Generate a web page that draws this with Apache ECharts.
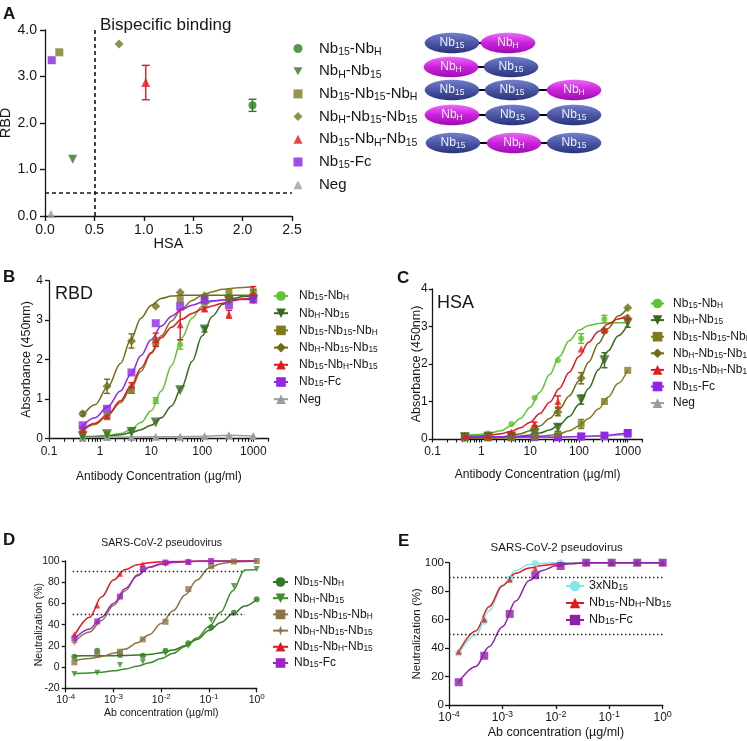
<!DOCTYPE html>
<html><head><meta charset="utf-8">
<script src="https://cdn.jsdelivr.net/npm/echarts@6/dist/echarts.min.js"></script>
<style>html,body{margin:0;padding:0;background:#fff}#c{width:747px;height:741px}</style>
</head><body><div id="c"></div><script>
// ================= DATA =================
// Panel A
const A_names = ['Nb15-NbH','NbH-Nb15','Nb15-Nb15-NbH','NbH-Nb15-Nb15','Nb15-NbH-Nb15','Nb15-Fc','Neg'];
const A_hsa = [2.10, 0.28, 0.145, 0.75, 1.02, 0.068, 0.06];
const A_rbd = [2.38, 1.22, 3.52, 3.70, 2.87, 3.35, 0.05];
const A_rbdErr = [0.13, 0, 0, 0, 0.37, 0, 0];
const A_cutoff = 0.5;
const A_xTicks = ['0.0','0.5','1.0','1.5','2.0','2.5'];
const A_yTicks = ['0.0','1.0','2.0','3.0','4.0'];

// Panels B/C (ELISA)
const BC_names = ['Nb15-NbH','NbH-Nb15','Nb15-Nb15-NbH','NbH-Nb15-Nb15','Nb15-NbH-Nb15','Nb15-Fc','Neg'];
const BC_conc = [0.457, 1.37, 4.12, 12.3, 37.0, 111, 333, 1000];
const BC_fitConc = [0.447, 0.794, 1.41, 2.51, 3.98, 6.31, 10, 15.8, 25.1, 39.8, 63.1, 100, 158, 251, 398, 631, 1000];
const BC_xTicks = ['0.1','1','10','100','1000'];

const B_Nb15NbH = [0.06, 0.10, 0.22, 0.96, 2.38, 3.42, 3.50, 3.55];
const B_Nb15NbH_err = [0, 0, 0, 0.07, 0.12, 0.05, 0.05, 0];
const B_NbHNb15 = [0.05, 0.10, 0.16, 0.40, 1.22, 2.76, 3.50, 3.52];
const B_NbHNb15_err = [0, 0, 0, 0, 0, 0.06, 0, 0];
const B_Nb15Nb15NbH = [0.22, 0.58, 1.22, 2.45, 3.52, 3.55, 3.70, 3.72];
const B_Nb15Nb15NbH_err = [0, 0, 0.08, 0.10, 0, 0, 0, 0.05];
const B_NbHNb15Nb15 = [0.62, 1.32, 2.47, 3.35, 3.70, 3.62, 3.58, 3.62];
const B_NbHNb15Nb15_err = [0.05, 0.18, 0.18, 0, 0, 0, 0, 0];
const B_Nb15NbHNb15 = [0.22, 0.55, 1.35, 2.50, 2.88, 3.28, 3.15, 3.65];
const B_Nb15NbHNb15_err = [0, 0.03, 0.06, 0.17, 0.38, 0.05, 0.10, 0.20];
const B_Fc = [0.33, 0.75, 1.67, 2.92, 3.35, 3.50, 3.38, 3.52];
const B_Neg = [0.02, 0.03, 0.03, 0.04, 0.04, 0.05, 0.08, 0.06];
const B_fit_Nb15NbH = [0.04, 0.05, 0.07, 0.12, 0.22, 0.40, 0.70, 1.20, 1.85, 2.55, 3.05, 3.35, 3.47, 3.51, 3.53, 3.53, 3.53];
const B_fit_NbHNb15 = [0.03, 0.04, 0.06, 0.09, 0.14, 0.22, 0.33, 0.52, 0.82, 1.30, 1.95, 2.60, 3.10, 3.40, 3.55, 3.60, 3.62];
const B_fit_Nb15Nb15NbH = [0.20, 0.35, 0.58, 0.90, 1.25, 1.70, 2.15, 2.60, 2.98, 3.28, 3.50, 3.63, 3.72, 3.78, 3.81, 3.83, 3.84];
const B_fit_NbHNb15Nb15 = [0.55, 0.85, 1.30, 1.90, 2.50, 3.05, 3.38, 3.55, 3.61, 3.63, 3.63, 3.63, 3.63, 3.63, 3.63, 3.63, 3.63];
const B_fit_Nb15NbHNb15 = [0.20, 0.38, 0.60, 0.95, 1.32, 1.78, 2.18, 2.55, 2.82, 3.02, 3.17, 3.28, 3.36, 3.43, 3.49, 3.54, 3.58];
const B_fit_Fc = [0.30, 0.52, 0.80, 1.20, 1.62, 2.10, 2.50, 2.85, 3.10, 3.27, 3.38, 3.45, 3.49, 3.51, 3.52, 3.52, 3.52];

const C_Nb15NbH = [0.10, 0.15, 0.40, 1.10, 2.10, 2.68, 3.20, 3.25];
const C_Nb15NbH_err = [0, 0, 0, 0, 0, 0.13, 0.10, 0];
const C_NbHNb15 = [0.05, 0.06, 0.07, 0.15, 0.30, 1.05, 2.10, 3.10];
const C_NbHNb15_err = [0, 0, 0, 0, 0.10, 0.12, 0.20, 0.12];
const C_Nb15Nb15NbH = [0.04, 0.04, 0.04, 0.06, 0.13, 0.40, 1.00, 1.83];
const C_Nb15Nb15NbH_err = [0, 0, 0, 0, 0, 0.12, 0, 0];
const C_NbHNb15Nb15 = [0.05, 0.05, 0.06, 0.28, 0.72, 1.62, 2.88, 3.50];
const C_NbHNb15Nb15_err = [0, 0, 0, 0, 0.10, 0.15, 0.05, 0];
const C_Nb15NbHNb15 = [0.08, 0.10, 0.18, 0.40, 1.00, 2.40, 2.92, 3.25];
const C_Nb15NbHNb15_err = [0, 0, 0, 0.05, 0.15, 0, 0, 0];
const C_Fc = [0.06, 0.06, 0.06, 0.06, 0.05, 0.07, 0.09, 0.16];
const C_Neg = [0.04, 0.04, 0.04, 0.05, 0.05, 0.06, 0.08, 0.12];
const C_fit_Nb15NbH = [0.10, 0.12, 0.15, 0.22, 0.35, 0.55, 0.85, 1.25, 1.72, 2.20, 2.62, 2.90, 3.03, 3.08, 3.10, 3.10, 3.10];
const C_fit_NbHNb15 = [0.04, 0.04, 0.04, 0.05, 0.06, 0.08, 0.11, 0.16, 0.24, 0.38, 0.60, 0.92, 1.35, 1.85, 2.35, 2.75, 3.05];
const C_fit_Nb15Nb15NbH = [0.03, 0.03, 0.03, 0.03, 0.04, 0.05, 0.06, 0.08, 0.10, 0.14, 0.22, 0.35, 0.55, 0.80, 1.12, 1.48, 1.84];
const C_fit_NbHNb15Nb15 = [0.02, 0.03, 0.04, 0.06, 0.09, 0.14, 0.22, 0.35, 0.55, 0.80, 1.15, 1.55, 2.05, 2.55, 2.95, 3.28, 3.50];
const C_fit_Nb15NbHNb15 = [0.07, 0.08, 0.10, 0.14, 0.20, 0.30, 0.45, 0.68, 0.98, 1.35, 1.78, 2.20, 2.58, 2.87, 3.07, 3.20, 3.30];

// Panels D/E (neutralization)
const DE_conc = [1.52e-4, 4.57e-4, 1.37e-3, 4.12e-3, 1.23e-2, 3.70e-2, 0.111, 0.333, 1];
const DE_fitConc = [1.5e-4, 3.16e-4, 5.62e-4, 1.0e-3, 1.78e-3, 3.16e-3, 5.62e-3, 1.0e-2, 1.78e-2, 3.16e-2, 5.62e-2, 0.1, 0.178, 0.316, 0.562, 1.0];
const DE_xTickExp = ['-4','-3','-2','-1','0'];
const DE_refLines = [90, 50];

const D_names = ['Nb15-NbH','NbH-Nb15','Nb15-Nb15-NbH','NbH-Nb15-Nb15','Nb15-NbH-Nb15','Nb15-Fc'];
const D_Nb15NbH = [9.8, 15.5, 11.4, 10.7, 15.5, 22.4, 37.5, 51.3, 63.9];
const D_NbHNb15 = [-6.6, -5.4, 1.9, 5.0, 13.0, 19.9, 44.4, 76.4, 92.4];
const D_Nb15Nb15NbH = [4.5, 11.4, 14.5, 26.1, 42.7, 73.5, 95.2, 99.5, 100];
const D_NbHNb15Nb15 = [23.2, 42.0, 66.0, 92.0, 97.0, 99.5, 99.8];
const D_Nb15NbHNb15 = [31.0, 58.0, 88.0, 97.0, 99.0, 99.5];
const D_Fc = [27.0, 43.0, 66.5, 92.4, 98.5, 99.0, 100];
const D_fit_Nb15NbH = [10.5, 10.6, 10.7, 10.8, 11.0, 11.3, 11.9, 13.5, 16.0, 20.0, 26.0, 34.5, 42.0, 50.0, 57.5, 64.0];
const D_fit_NbHNb15 = [-6.0, -5.5, -4.8, -3.5, -1.8, 0.8, 4.0, 8.0, 13.0, 19.5, 27.5, 38.0, 52.0, 72.0, 91.5, 92.0];
const D_fit_Nb15Nb15NbH = [6.0, 8.0, 10.0, 13.0, 17.0, 23.0, 30.5, 41.0, 53.0, 68.0, 82.0, 93.5, 97.5, 99.0, 99.6, 100];
const D_fit_NbHNb15Nb15 = [23.0, 33.0, 44.0, 58.0, 72.0, 87.0, 94.0, 97.0, 98.5, 99.3, 99.7, 99.9, 100, 100, 100, 100];
const D_fit_Nb15NbHNb15 = [29.0, 47.0, 66.0, 82.0, 92.0, 96.5, 98.3, 99.2, 99.5, 99.7, 99.9, 100, 100, 100, 100, 100];
const D_fit_Fc = [26.0, 36.0, 47.0, 60.0, 74.0, 86.0, 94.0, 97.5, 98.8, 99.4, 99.8, 100, 100, 100, 100, 100];

const E_names = ['3xNb15','Nb15-NbH-Nb15','Nb15-Fc'];
const E_3xNb15 = [36.5, 58.9, 88.5, 99.5, 100, 100, 100, 100, 100];
const E_Nb15NbHNb15 = [37.5, 60.0, 88.0, 96.0, 99.0, 100, 100, 100, 100];
const E_Fc = [16.0, 34.6, 64.0, 91.2, 97.7, 100, 100, 100, 100];
const E_fit_3xNb15 = [36, 49, 66, 83.5, 94.5, 98.7, 99.7, 100, 100, 100, 100, 100, 100, 100, 100, 100];
const E_fit_Nb15NbHNb15 = [37, 52, 69, 84, 92.5, 96.3, 98, 99, 99.4, 99.7, 99.9, 100, 100, 100, 100, 100];
const E_fit_Fc = [16, 27, 41, 55, 73, 87.5, 94.5, 97.8, 99.2, 99.8, 100, 100, 100, 100, 100, 100];

// ================= STYLES =================
const FF = '"Liberation Sans", Arial, Helvetica, sans-serif';
const INK = '#161616';
const STAR4 = 'path://M0,-10L2.6,-2.6L10,0L2.6,2.6L0,10L-2.6,2.6L-10,0L-2.6,-2.6Z';
const TRI_DOWN = 'path://M0,0L10,0L5,9Z';
const A_style = [
  {color:'#2f7d20', symbol:'circle', size:8},
  {color:'#36761b', symbol:TRI_DOWN, size:9},
  {color:'#7b7a22', symbol:'rect', size:8},
  {color:'#77731a', symbol:'diamond', size:9},
  {color:'#e3191f', symbol:'triangle', size:9},
  {color:'#8a1fe0', symbol:'rect', size:8},
  {color:'#9c9c9c', symbol:'triangle', size:8}
];
const BC_style = [
  {color:'#5fc232', symbol:'circle', size:6},
  {color:'#336b1b', symbol:TRI_DOWN, size:10},
  {color:'#7d7a22', symbol:'rect', size:7},
  {color:'#6f6b16', symbol:'diamond', size:9},
  {color:'#e3191f', symbol:'triangle', size:7},
  {color:'#9126e6', symbol:'rect', size:8},
  {color:'#9c9c9c', symbol:'triangle', size:8}
];
const D_style = [
  {color:'#2e7a1e', symbol:'circle', size:6},
  {color:'#3c8f2c', symbol:TRI_DOWN, size:6},
  {color:'#8a7444', symbol:'rect', size:6},
  {color:'#8c7a4a', symbol:STAR4, size:7},
  {color:'#e3191f', symbol:'triangle', size:6},
  {color:'#a321cc', symbol:'rect', size:6}
];
const E_style = [
  {color:'#82e6ea', symbol:'circle', size:7},
  {color:'#e3191f', symbol:'triangle', size:6},
  {color:'#8f1fab', symbol:'rect', size:8}
];

// ================= HELPERS =================
const L = Math.log10;
function richName(name) {
  let out = '', last = 0, m;
  const re = /Nb(15|H)/g;
  while ((m = re.exec(name))) {
    out += '{n|' + name.slice(last, m.index) + 'Nb}{s|' + m[1] + '}';
    last = re.lastIndex;
  }
  if (last < name.length) out += '{n|' + name.slice(last) + '}';
  return out;
}
function errSeries(xi, yi, pts, color, cap) {
  return {
    type:'custom', xAxisIndex:xi, yAxisIndex:yi, data:pts, silent:true, z:3,
    encode:{x:0, y:[1,2]},
    renderItem(params, api) {
      const x = api.value(0);
      const p1 = api.coord([x, api.value(1)]), p2 = api.coord([x, api.value(2)]);
      const w = cap / 2, st = {stroke:color, lineWidth:1.4};
      return {type:'group', children:[
        {type:'line', shape:{x1:p1[0], y1:p1[1], x2:p2[0], y2:p2[1]}, style:st},
        {type:'line', shape:{x1:p1[0]-w, y1:p1[1], x2:p1[0]+w, y2:p1[1]}, style:st},
        {type:'line', shape:{x1:p2[0]-w, y1:p2[1], x2:p2[0]+w, y2:p2[1]}, style:st}
      ]};
    }
  };
}
function axisBase(fs, margin) {
  return {
    axisLine:{show:true, onZero:false, lineStyle:{color:INK, width:1.3}},
    axisTick:{show:true, length:4, lineStyle:{color:INK, width:1.3}},
    axisLabel:{color:INK, fontSize:fs, fontFamily:FF, margin:margin},
    splitLine:{show:false}
  };
}
function nameCfg(name, gap, fs) {
  return {name:name, nameLocation:'middle', nameGap:gap, nameMoveOverlap:false,
    nameTextStyle:{color:INK, fontSize:fs, fontFamily:FF}};
}
function legendCfg(names, prefix, left, top, fs, iw, ih, lh, gap, spacer) {
  return {
    orient:'vertical', left:left, top:top, padding:0, itemWidth:iw, itemHeight:ih, itemGap:gap,
    selectedMode:false, data:names.map(n => prefix + n),
    formatter: nm => (spacer > 0 ? '{sp| }' : '') + richName(nm.slice(prefix.length)),
    textStyle:{fontFamily:FF, color:INK, rich:{
      sp:{width:spacer, fontSize:4},
      n:{fontSize:fs, lineHeight:lh, fontFamily:FF, color:INK},
      s:{fontSize:Math.round(fs*0.7*10)/10, lineHeight:Math.round(lh*0.45), verticalAlign:'bottom', fontFamily:FF, color:INK}
    }}
  };
}
function addCurves(series, prefix, xi, yi, conc, fitConc, sets, styles, cap) {
  sets.forEach((set, i) => {
    const st = styles[i], nm = prefix + set.name;
    const common = {name:nm, xAxisIndex:xi, yAxisIndex:yi, symbol:st.symbol,
      symbolSize:st.size, itemStyle:{color:st.color}, emphasis:{disabled:true}};
    if (set.fit) {
      series.push(Object.assign({}, common, {type:'line', silent:true, z:2,
        data:fitConc.map((x, j) => [L(x), set.fit[j]]), smooth:0.35, smoothMonotone:'x', showSymbol:false,
        lineStyle:{color:st.color, width:1.5}}));
      if (set.err) {
        const pts = [];
        set.y.forEach((v, j) => { if (set.err[j] > 0) pts.push([L(conc[j]), v - set.err[j], v + set.err[j]]); });
        if (pts.length) series.push(errSeries(xi, yi, pts, st.color, cap));
      }
      series.push(Object.assign({}, common, {type:'scatter', z:4, silent:true,
        data:set.y.map((v, j) => [L(conc[j]), v])}));
    } else {
      series.push(Object.assign({}, common, {type:'line', z:2, silent:true, showSymbol:true,
        data:set.y.map((v, j) => [L(conc[j]), v]), lineStyle:{color:st.color, width:1.5}}));
    }
  });
}

// ================= BUILD =================
const series = [];

// Panel A
A_names.forEach((n, i) => {
  const st = A_style[i];
  const s = {type:'scatter', name:'A:' + n, xAxisIndex:0, yAxisIndex:0, silent:true, z:4,
    symbol:st.symbol, symbolSize:st.size, itemStyle:{color:st.color},
    emphasis:{disabled:true}, data:[[A_hsa[i], A_rbd[i]]]};
  if (i === 0) {
    s.markLine = {silent:true, symbol:['none','none'], label:{show:false}, animation:false,
      lineStyle:{type:[4,3], color:INK, width:1.6},
      data:[[{coord:[A_cutoff, 0]}, {coord:[A_cutoff, 4]}], [{coord:[0, A_cutoff]}, {coord:[2.5, A_cutoff]}]]};
  }
  series.push(s);
  if (A_rbdErr[i] > 0) series.push(errSeries(0, 0, [[A_hsa[i], A_rbd[i] - A_rbdErr[i], A_rbd[i] + A_rbdErr[i]]], st.color, 8));
});

// Panel B
addCurves(series, 'B:', 1, 1, BC_conc, BC_fitConc, [
  {name:BC_names[0], y:B_Nb15NbH, err:B_Nb15NbH_err, fit:B_fit_Nb15NbH},
  {name:BC_names[1], y:B_NbHNb15, err:B_NbHNb15_err, fit:B_fit_NbHNb15},
  {name:BC_names[2], y:B_Nb15Nb15NbH, err:B_Nb15Nb15NbH_err, fit:B_fit_Nb15Nb15NbH},
  {name:BC_names[3], y:B_NbHNb15Nb15, err:B_NbHNb15Nb15_err, fit:B_fit_NbHNb15Nb15},
  {name:BC_names[4], y:B_Nb15NbHNb15, err:B_Nb15NbHNb15_err, fit:B_fit_Nb15NbHNb15},
  {name:BC_names[5], y:B_Fc, fit:B_fit_Fc},
  {name:BC_names[6], y:B_Neg}
], BC_style, 6);

// Panel C
addCurves(series, 'C:', 2, 2, BC_conc, BC_fitConc, [
  {name:BC_names[0], y:C_Nb15NbH, err:C_Nb15NbH_err, fit:C_fit_Nb15NbH},
  {name:BC_names[1], y:C_NbHNb15, err:C_NbHNb15_err, fit:C_fit_NbHNb15},
  {name:BC_names[2], y:C_Nb15Nb15NbH, err:C_Nb15Nb15NbH_err, fit:C_fit_Nb15Nb15NbH},
  {name:BC_names[3], y:C_NbHNb15Nb15, err:C_NbHNb15Nb15_err, fit:C_fit_NbHNb15Nb15},
  {name:BC_names[4], y:C_Nb15NbHNb15, err:C_Nb15NbHNb15_err, fit:C_fit_Nb15NbHNb15},
  {name:BC_names[5], y:C_Fc},
  {name:BC_names[6], y:C_Neg}
], BC_style, 6);
series.forEach(s => { if (s.name === 'C:Neg') s.z = 1; });

// Panel D
addCurves(series, 'D:', 3, 3, DE_conc, DE_fitConc, [
  {name:D_names[0], y:D_Nb15NbH, fit:D_fit_Nb15NbH},
  {name:D_names[1], y:D_NbHNb15, fit:D_fit_NbHNb15},
  {name:D_names[2], y:D_Nb15Nb15NbH, fit:D_fit_Nb15Nb15NbH},
  {name:D_names[3], y:D_NbHNb15Nb15, fit:D_fit_NbHNb15Nb15},
  {name:D_names[4], y:D_Nb15NbHNb15, fit:D_fit_Nb15NbHNb15},
  {name:D_names[5], y:D_Fc, fit:D_fit_Fc}
], D_style, 5);

// Panel E
addCurves(series, 'E:', 4, 4, DE_conc, DE_fitConc, [
  {name:E_names[0], y:E_3xNb15, fit:E_fit_3xNb15},
  {name:E_names[1], y:E_Nb15NbHNb15, fit:E_fit_Nb15NbHNb15},
  {name:E_names[2], y:E_Fc, fit:E_fit_Fc}
], E_style, 5);

function refLineSeries(xi, yi, x0, x1) {
  return {type:'line', xAxisIndex:xi, yAxisIndex:yi, data:[], silent:true, z:1,
    markLine:{silent:true, symbol:['none','none'], label:{show:false}, animation:false,
      lineStyle:{type:[1.5,2.5], color:'#222', width:1.3},
      data:DE_refLines.map(v => [{coord:[L(x0), v]}, {coord:[L(x1), v]}])}};
}
series.push(refLineSeries(3, 3, 1.4e-4, 0.57));
series.push(refLineSeries(4, 4, 1e-4, 1));

// log axis ticks for B/C (decades labelled, 2..9 sub-divisions ticked)
const BC_major = [-1, 0, 1, 2, 3];
const BC_minor = [];
for (let d = -1; d <= 3; d++) for (let k = 2; k <= 9; k++) { const v = k * Math.pow(10, d); if (v <= 2000) BC_minor.push(L(v)); }
const BC_allTicks = BC_major.concat(BC_minor).sort((a, b) => a - b);
const BC_max = L(2000);

function logXAxis(grid, fs, margin, name, gap, nfs) {
  const b = axisBase(fs, margin);
  return Object.assign({type:'value', gridIndex:grid, position:'bottom', min:-1, max:BC_max}, b, nameCfg(name, gap, nfs), {
    axisLabel:Object.assign({}, b.axisLabel, {customValues:BC_major, formatter:v => BC_xTicks[Math.round(v) + 1]}),
    axisTick:{show:true, customValues:BC_allTicks, length:3.5, lineStyle:{color:INK, width:1.1}}
  });
}
function supXAxis(grid, fs, margin, name, gap, nfs) {
  const b = axisBase(fs, margin);
  return Object.assign({type:'value', gridIndex:grid, position:'bottom', min:-4, max:0, interval:1}, b, nameCfg(name, gap, nfs), {
    axisLabel:Object.assign({}, b.axisLabel, {
      formatter:v => '{b|10}{p|' + DE_xTickExp[Math.round(v) + 4] + '}',
      rich:{b:{fontSize:fs, lineHeight:16, fontFamily:FF, color:INK},
            p:{fontSize:Math.round(fs*0.72), lineHeight:8, verticalAlign:'top', fontFamily:FF, color:INK}}
    }),
    axisTick:Object.assign({}, b.axisTick, {length:4})
  });
}

const gridBox = [
  {left:45, top:30, width:247, height:186},
  {left:49, top:280.7, width:219.7, height:157.6},
  {left:432.7, top:289, width:209.7, height:150},
  {left:65.7, top:561, width:191, height:127.3},
  {left:449, top:562.7, width:213.7, height:142.3}
];

const xAxis = [
  Object.assign({type:'value', gridIndex:0, position:'bottom', min:0, max:2.5, interval:0.5}, axisBase(14, 7), nameCfg('HSA', 20, 14.5),
    {axisLabel:{color:INK, fontSize:14, fontFamily:FF, margin:7, formatter:v => A_xTicks[Math.round(v / 0.5)]},
     axisTick:{show:true, length:5, lineStyle:{color:INK, width:1.4}}}),
  logXAxis(1, 12, 7, 'Antibody Concentration (µg/ml)', 32, 12),
  logXAxis(2, 12, 7, 'Antibody Concentration (µg/ml)', 30, 12),
  supXAxis(3, 10.5, 4, 'Ab concentration (µg/ml)', 19, 10.5),
  supXAxis(4, 12, 5, 'Ab concentration (µg/ml)', 21, 12.5)
];
const yAxis = [
  Object.assign({type:'value', gridIndex:0, min:0, max:4, interval:1}, axisBase(14, 8), nameCfg('RBD', 32, 14.5),
    {axisLabel:{color:INK, fontSize:14, fontFamily:FF, margin:8, formatter:v => A_yTicks[Math.round(v)]},
     axisTick:{show:true, length:5, lineStyle:{color:INK, width:1.4}}}),
  Object.assign({type:'value', gridIndex:1, min:0, max:4, interval:1}, axisBase(12, 6), nameCfg('Absorbance (450nm)', 16, 12.5)),
  Object.assign({type:'value', gridIndex:2, min:0, max:4, interval:1}, axisBase(12, 5), nameCfg('Absorbance (450nm)', 10, 12.5)),
  Object.assign({type:'value', gridIndex:3, min:-20, max:100, interval:20}, axisBase(10.5, 6), nameCfg('Neutralization (%)', 21, 10.5)),
  Object.assign({type:'value', gridIndex:4, min:0, max:100, interval:20}, axisBase(11.5, 5), nameCfg('Neutralization (%)', 26, 11.5))
];

const grid = gridBox.map(g => Object.assign({containLabel:false, outerBoundsMode:'none'}, g));

const legend = [
  legendCfg(A_names, 'A:', 293.5, 41, 15, 9, 9, 18, 6.2, 11.5),
  legendCfg(BC_names, 'B:', 273, 290, 12, 14, 12, 12, 5.2, 6),
  legendCfg(BC_names, 'C:', 650, 297.5, 12, 13, 12, 12, 4.6, 4),
  legendCfg(D_names, 'D:', 272, 576, 12, 15, 12, 12, 4.2, 1),
  legendCfg(E_names, 'E:', 565, 579.5, 12.5, 18, 13, 13, 4, 0)
];

function txt(text, x, y, size, opts) {
  return {type:'text', silent:true, z:10, style:Object.assign({text:text, x:x, y:y, fontSize:size, fontFamily:FF,
    fill:INK, verticalAlign:'middle', align:'left'}, opts || {})};
}
const graphic = [
  txt('A', 3, 14, 17, {fontWeight:'bold'}),
  txt('Bispecific binding', 100, 25.5, 17),
  txt('B', 3, 277.5, 17, {fontWeight:'bold'}),
  txt('RBD', 55, 294.5, 18),
  txt('C', 397, 278, 17, {fontWeight:'bold'}),
  txt('HSA', 437, 303, 18),
  txt('D', 3, 540, 17, {fontWeight:'bold'}),
  txt('SARS-CoV-2 pseudovirus', 161.7, 543.3, 10.5, {align:'center'}),
  txt('E', 398, 541.5, 17, {fontWeight:'bold'}),
  txt('SARS-CoV-2 pseudovirus', 556.7, 547.7, 11.5, {align:'center'})
];
// construct diagrams (illustration)
const DIAG_rows = [
  {y:43, units:[['15',452], ['H',508]]},
  {y:67, units:[['H',451], ['15',511]]},
  {y:90, units:[['15',452], ['15',512], ['H',574]]},
  {y:115, units:[['H',452], ['15',512.5], ['15',574]]},
  {y:143, units:[['15',453], ['H',514], ['15',574]]}
];
const RX = 27.3, RY = 10.3;
const fillBlue = {type:'linear', x:0, y:0, x2:0, y2:1, colorStops:[{offset:0, color:'#7480cc'}, {offset:0.5, color:'#4a57a6'}, {offset:1, color:'#2a3478'}]};
const fillMag = {type:'linear', x:0, y:0, x2:0, y2:1, colorStops:[{offset:0, color:'#e86af5'}, {offset:0.5, color:'#cc22dd'}, {offset:1, color:'#9a0fae'}]};
DIAG_rows.forEach(r => {
  for (let k = 0; k < r.units.length - 1; k++) {
    graphic.push({type:'line', silent:true, z:9, shape:{x1:r.units[k][1] + RX - 2, y1:r.y, x2:r.units[k+1][1] - RX + 2, y2:r.y},
      style:{stroke:'#000', lineWidth:2}});
  }
  r.units.forEach(u => {
    graphic.push({type:'ellipse', silent:true, z:10, shape:{cx:u[1], cy:r.y, rx:RX, ry:RY},
      style:{fill:u[0] === 'H' ? fillMag : fillBlue}});
    graphic.push({type:'text', silent:true, z:11, style:{text:'{n|Nb}{s|' + u[0] + '}', x:u[1], y:r.y,
      align:'center', verticalAlign:'middle',
      rich:{n:{fontSize:12, lineHeight:14, fill:'#f2f2f8', fontFamily:FF},
            s:{fontSize:8.5, lineHeight:6, verticalAlign:'bottom', fill:'#f2f2f8', fontFamily:FF}}}});
  });
});

const chart = echarts.init(document.getElementById('c'), null, {renderer:'canvas', width:747, height:741});
chart.setOption({
  animation:false,
  backgroundColor:'#ffffff',
  textStyle:{fontFamily:FF},
  grid:grid, xAxis:xAxis, yAxis:yAxis, legend:legend, series:series, graphic:graphic
});
</script></body></html>
